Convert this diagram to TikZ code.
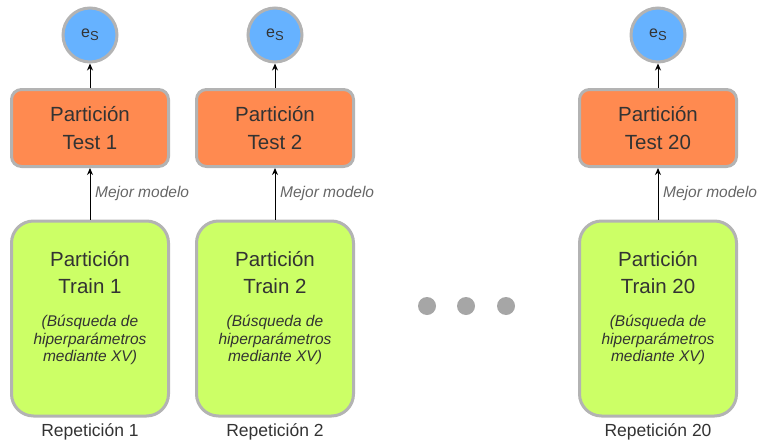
\documentclass[tikz,border=0pt]{standalone}
\usepackage{fontspec}
\setmainfont{Liberation Sans}
\usetikzlibrary{arrows.meta}
\definecolor{testfill}{HTML}{FF8A50}
\definecolor{trainfill}{HTML}{CCFF66}
\definecolor{errfill}{HTML}{66B2FF}
\definecolor{edge}{HTML}{B3B3B3}
\definecolor{txt}{HTML}{333333}
\tikzset{
  testbox/.style={draw=edge, line width=3pt, fill=testfill, rounded corners=10pt,
    minimum width=157pt, minimum height=77pt, inner sep=0pt, align=center,
    text=txt, font=\fontsize{20.5}{28}\selectfont},
  trainbox/.style={draw=edge, line width=3pt, fill=trainfill, rounded corners=22pt,
    minimum width=157pt, minimum height=195pt, inner sep=0pt},
  traintitle/.style={anchor=north, align=center, text=txt, inner sep=0pt,
    font=\fontsize{20.5}{27}\selectfont},
  trainnote/.style={anchor=north, align=center, text=txt, inner sep=0pt,
    font=\fontsize{15.5}{17.5}\selectfont\itshape},
  errnode/.style={circle, draw=edge, line width=3pt, fill=errfill,
    minimum size=54pt, inner sep=0pt, text=txt, font=\fontsize{16}{18}\selectfont},
  replabel/.style={text=txt, font=\fontsize{17.5}{20}\selectfont},
  bestlabel/.style={anchor=west, text=black!60, inner sep=0pt,
    font=\fontsize{15.5}{18}\selectfont\itshape},
  link/.style={-{Stealth[length=7pt,width=6pt]}, line width=1pt, black},
  dot/.style={circle, fill=black!35, minimum size=18pt, inner sep=0pt}
}
\newcommand{\errlabel}{e\raisebox{-3pt}{\fontsize{13}{14}\selectfont S}}
\begin{document}
\begin{tikzpicture}[x=1pt,y=-1pt]
\useasboundingbox (0,0) rectangle (757,444);

% repetition 1
\node[errnode] (erra) at (90,35) {\errlabel};
\node[testbox] (testa) at (90,128) {Partición\\Test 1};
\node[trainbox] (traina) at (90,318.5) {};
\node[traintitle] (titlea) at (90,251) {Partición\\Train 1};
\node[trainnote] (notea) at (90,315) {(Búsqueda de\\hiperparámetros\\mediante XV)};
\node[replabel] (repa) at (90,432) {Repetición 1};
\draw[link] (traina.north) -- (testa.south);
\draw[link] (testa.north) -- (erra.south);
\node[bestlabel] (besta) at (95,193) {Mejor modelo};

% repetition 2
\node[errnode] (errb) at (275,35) {\errlabel};
\node[testbox] (testb) at (275,128) {Partición\\Test 2};
\node[trainbox] (trainb) at (275,318.5) {};
\node[traintitle] (titleb) at (275,251) {Partición\\Train 2};
\node[trainnote] (noteb) at (275,315) {(Búsqueda de\\hiperparámetros\\mediante XV)};
\node[replabel] (repb) at (275,432) {Repetición 2};
\draw[link] (trainb.north) -- (testb.south);
\draw[link] (testb.north) -- (errb.south);
\node[bestlabel] (bestb) at (280,193) {Mejor modelo};

% repetition 20
\node[errnode] (errc) at (658,35) {\errlabel};
\node[testbox] (testc) at (658,128) {Partición\\Test 20};
\node[trainbox] (trainc) at (658,318.5) {};
\node[traintitle] (titlec) at (658,251) {Partición\\Train 20};
\node[trainnote] (notec) at (658,315) {(Búsqueda de\\hiperparámetros\\mediante XV)};
\node[replabel] (repc) at (658,432) {Repetición 20};
\draw[link] (trainc.north) -- (testc.south);
\draw[link] (testc.north) -- (errc.south);
\node[bestlabel] (bestc) at (663,193) {Mejor modelo};

% ellipsis between repetitions
\node[dot] (dot1) at (427,306) {};
\node[dot] (dot2) at (466,306) {};
\node[dot] (dot3) at (506,306) {};
\end{tikzpicture}
\end{document}
